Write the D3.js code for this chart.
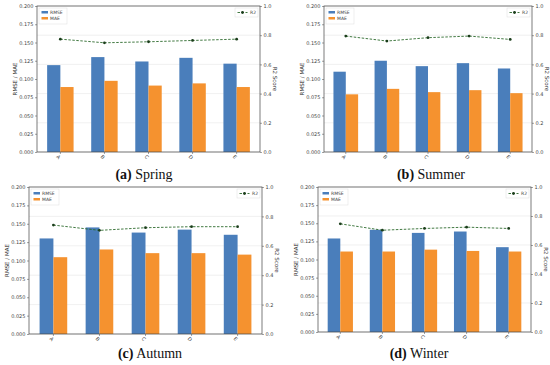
<!DOCTYPE html>
<html>
<head>
<meta charset="utf-8">
<script src="https://cdn.jsdelivr.net/npm/d3@7"></script>
<style>
  body { margin: 0; background: #fff; }
  svg { display: block; }
</style>
</head>
<body>
<svg width="550" height="365"></svg>
<script>
// Chart data
const models = ["A", "B", "C", "D", "E"];
const seasons = ["Spring", "Summer", "Autumn", "Winter"];
const captionTags = ["(a)", "(b)", "(c)", "(d)"];

const rmseSpring = [0.119, 0.130, 0.124, 0.129, 0.121];
const maeSpring = [0.089, 0.0975, 0.091, 0.094, 0.089];
const r2Spring = [0.773, 0.748, 0.755, 0.764, 0.773];

const rmseSummer = [0.110, 0.125, 0.1176, 0.1217, 0.1144];
const maeSummer = [0.079, 0.0865, 0.082, 0.0847, 0.0806];
const r2Summer = [0.794, 0.760, 0.783, 0.794, 0.771];

const rmseAutumn = [0.130, 0.145, 0.138, 0.142, 0.135];
const maeAutumn = [0.1045, 0.115, 0.110, 0.110, 0.108];
const r2Autumn = [0.741, 0.705, 0.723, 0.730, 0.730];

const rmseWinter = [0.129, 0.141, 0.1367, 0.1386, 0.117];
const maeWinter = [0.111, 0.111, 0.1136, 0.1118, 0.111];
const r2Winter = [0.746, 0.702, 0.714, 0.723, 0.714];

const leftTicks = [0, 0.025, 0.05, 0.075, 0.1, 0.125, 0.15, 0.175, 0.2];
const rightTicks = [0, 0.2, 0.4, 0.6, 0.8, 1.0];

const rmseSeries = [rmseSpring, rmseSummer, rmseAutumn, rmseWinter];
const maeSeries = [maeSpring, maeSummer, maeAutumn, maeWinter];
const r2Series = [r2Spring, r2Summer, r2Autumn, r2Winter];

// panel boxes (plot area) and caption positions
const panels = [
  { left: 37, right: 260, top: 6, bottom: 152, capX: 144, capY: 179 },
  { left: 324, right: 532, top: 6, bottom: 152, capX: 431, capY: 179 },
  { left: 29, right: 262, top: 187, bottom: 334, capX: 150, capY: 358 },
  { left: 318, right: 531, top: 187, bottom: 332, capX: 419, capY: 358 }
];

const blue = "#4a7ebb";
const orange = "#f5922f";
const green = "#2e6b2e";

const svg = d3.select("svg");

panels.forEach(function (p, i) {
  const g = svg.append("g");

  const x = d3.scaleBand().domain(models).range([p.left, p.right]).paddingOuter(0.03).paddingInner(0);
  const y = d3.scaleLinear().domain([0, 0.2]).range([p.bottom, p.top]);
  const y2 = d3.scaleLinear().domain([0, 1]).range([p.bottom, p.top]);
  const barW = x.bandwidth() * 0.3;

  // faint grid
  g.selectAll(".grid")
    .data(rightTicks)
    .enter()
    .append("line")
    .attr("x1", p.left)
    .attr("x2", p.right)
    .attr("y1", (d) => y2(d))
    .attr("y2", (d) => y2(d))
    .attr("stroke", "#e6e6e6")
    .attr("stroke-width", 0.6);

  // RMSE bars
  g.selectAll(".rmse")
    .data(rmseSeries[i])
    .enter()
    .append("rect")
    .attr("x", (d, j) => x(models[j]) + x.bandwidth() / 2 - barW)
    .attr("y", (d) => y(d))
    .attr("width", barW)
    .attr("height", (d) => y(0) - y(d))
    .attr("fill", blue);

  // MAE bars
  g.selectAll(".mae")
    .data(maeSeries[i])
    .enter()
    .append("rect")
    .attr("x", (d, j) => x(models[j]) + x.bandwidth() / 2)
    .attr("y", (d) => y(d))
    .attr("width", barW)
    .attr("height", (d) => y(0) - y(d))
    .attr("fill", orange);

  // R2 line
  const line = d3.line()
    .x((d, j) => x(models[j]) + x.bandwidth() / 2)
    .y((d) => y2(d));

  g.append("path")
    .datum(r2Series[i])
    .attr("d", line)
    .attr("fill", "none")
    .attr("stroke", green)
    .attr("stroke-width", 0.9)
    .attr("stroke-dasharray", "2.5,1.5");

  g.selectAll(".pt")
    .data(r2Series[i])
    .enter()
    .append("circle")
    .attr("cx", (d, j) => x(models[j]) + x.bandwidth() / 2)
    .attr("cy", (d) => y2(d))
    .attr("r", 1.4)
    .attr("fill", "#1a3d1a");

  // frame
  g.append("rect")
    .attr("x", p.left)
    .attr("y", p.top)
    .attr("width", p.right - p.left)
    .attr("height", p.bottom - p.top)
    .attr("fill", "none")
    .attr("stroke", "#444")
    .attr("stroke-width", 0.7);

  // axes
  const fs = "5px";
  const leftAxis = g.append("g")
    .attr("transform", `translate(${p.left},0)`)
    .call(d3.axisLeft(y).tickValues(leftTicks).tickFormat(d3.format(".3f")).tickSize(2).tickPadding(1.5));
  const rightAxis = g.append("g")
    .attr("transform", `translate(${p.right},0)`)
    .call(d3.axisRight(y2).tickValues(rightTicks).tickFormat(d3.format(".1f")).tickSize(2).tickPadding(1.5));
  const bottomAxis = g.append("g")
    .attr("transform", `translate(0,${p.bottom})`)
    .call(d3.axisBottom(x).tickSize(2).tickPadding(2));

  [leftAxis, rightAxis, bottomAxis].forEach(function (a) {
    a.select(".domain").remove();
    a.selectAll("line").attr("stroke", "#444").attr("stroke-width", 0.5);
    a.selectAll("text")
      .attr("fill", "#444")
      .style("font-size", fs)
      .style("font-family", "DejaVu Sans, sans-serif");
  });
  bottomAxis.selectAll("text")
    .attr("transform", "rotate(45)")
    .attr("text-anchor", "start")
    .attr("dx", "0.1em")
    .attr("dy", "0.5em");

  // axis titles
  g.append("text")
    .attr("transform", `translate(${p.left - 20},${(p.top + p.bottom) / 2}) rotate(-90)`)
    .attr("text-anchor", "middle")
    .attr("fill", "#333")
    .style("font-size", "5.5px")
    .style("font-family", "DejaVu Sans, sans-serif")
    .text("RMSE / MAE");

  g.append("text")
    .attr("transform", `translate(${p.right + 13},${(p.top + p.bottom) / 2}) rotate(90)`)
    .attr("text-anchor", "middle")
    .attr("fill", "#333")
    .style("font-size", "5.5px")
    .style("font-family", "DejaVu Sans, sans-serif")
    .text("R2 Score");

  // legend (bars)
  const lg = g.append("g").attr("transform", `translate(${p.left + 2},${p.top + 2})`);
  lg.append("rect")
    .attr("width", 28).attr("height", 16)
    .attr("fill", "#fff").attr("stroke", "#ddd").attr("stroke-width", 0.5);
  [["RMSE", blue], ["MAE", orange]].forEach(function (e, k) {
    lg.append("rect")
      .attr("x", 2.5).attr("y", 3 + k * 6)
      .attr("width", 6.5).attr("height", 2.5)
      .attr("fill", e[1]);
    lg.append("text")
      .attr("x", 11).attr("y", 5.5 + k * 6)
      .attr("fill", "#444")
      .style("font-size", "4.5px")
      .style("font-family", "DejaVu Sans, sans-serif")
      .text(e[0]);
  });

  // legend (R2)
  const rg = g.append("g").attr("transform", `translate(${p.right - 25},${p.top + 2})`);
  rg.append("rect")
    .attr("width", 23).attr("height", 9)
    .attr("fill", "#fff").attr("stroke", "#ddd").attr("stroke-width", 0.5);
  rg.append("line")
    .attr("x1", 2.5).attr("x2", 12.5).attr("y1", 4.5).attr("y2", 4.5)
    .attr("stroke", green).attr("stroke-width", 0.9).attr("stroke-dasharray", "2.5,1.5");
  rg.append("circle").attr("cx", 7.5).attr("cy", 4.5).attr("r", 1.4).attr("fill", "#1a3d1a");
  rg.append("text")
    .attr("x", 15).attr("y", 6.2)
    .attr("fill", "#444")
    .style("font-size", "4.5px")
    .style("font-family", "DejaVu Sans, sans-serif")
    .text("R2");

  // caption
  const cap = svg.append("text")
    .attr("x", p.capX)
    .attr("y", p.capY)
    .attr("text-anchor", "middle")
    .attr("fill", "#111")
    .style("font-size", "14px")
    .style("font-family", "Liberation Serif, serif");
  cap.append("tspan").style("font-weight", "bold").text(captionTags[i]);
  cap.append("tspan").text(" " + seasons[i]);
});
</script>
</body>
</html>
